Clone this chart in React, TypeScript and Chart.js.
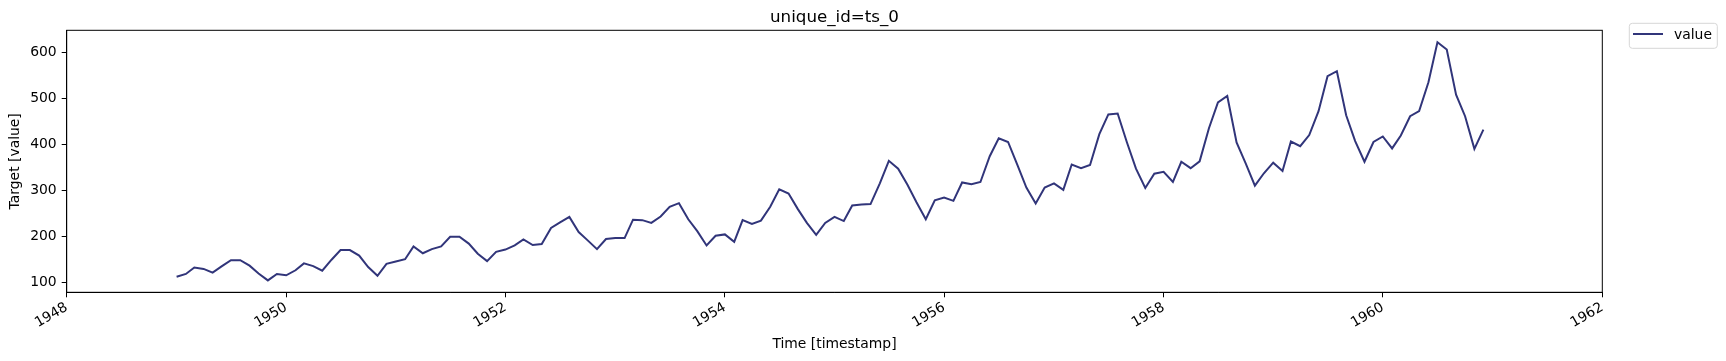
import React, { useEffect, useRef } from "react";
import { Chart, registerables } from "chart.js";

Chart.register(...registerables);

const years = [1949, 1950, 1951, 1952, 1953, 1954, 1955, 1956, 1957, 1958, 1959, 1960];
const v1949 = [112, 118, 132, 129, 121, 135, 148, 148, 136, 119, 104, 118];
const v1950 = [115, 126, 141, 135, 125, 149, 170, 170, 158, 133, 114, 140];
const v1951 = [145, 150, 178, 163, 172, 178, 199, 199, 184, 162, 146, 166];
const v1952 = [171, 180, 193, 181, 183, 218, 230, 242, 209, 191, 172, 194];
const v1953 = [196, 196, 236, 235, 229, 243, 264, 272, 237, 211, 180, 201];
const v1954 = [204, 188, 235, 227, 234, 264, 302, 293, 259, 229, 203, 229];
const v1955 = [242, 233, 267, 269, 270, 315, 364, 347, 312, 274, 237, 278];
const v1956 = [284, 277, 317, 313, 318, 374, 413, 405, 355, 306, 271, 306];
const v1957 = [315, 301, 356, 348, 355, 422, 465, 467, 404, 347, 305, 336];
const v1958 = [340, 318, 362, 348, 363, 435, 491, 505, 404, 359, 310, 337];
const v1959 = [360, 342, 406, 396, 420, 472, 548, 559, 463, 407, 362, 405];
const v1960 = [417, 391, 419, 461, 472, 535, 622, 606, 508, 461, 390, 432];
const yearValues = [v1949, v1950, v1951, v1952, v1953, v1954, v1955, v1956, v1957, v1958, v1959, v1960];

const xTickYears = [1948, 1950, 1952, 1954, 1956, 1958, 1960, 1962];
const yTicks = [100, 200, 300, 400, 500, 600];

const LINE_COLOR = "#31357a";
const FONT = "'DejaVu Sans', sans-serif";

export default function App() {
  const ref = useRef<HTMLCanvasElement | null>(null);

  useEffect(() => {
    document.body.style.margin = "0";
    const canvas = ref.current!;
    const points: { x: number; y: number }[] = [];
    years.forEach((yr, i) => {
      yearValues[i].forEach((v, m) => points.push({ x: Date.UTC(yr, m, 1), y: v }));
    });

    const L = 66.7, R = 1602.3, T = 30.3, B = 292.3;
    const W = 1726, H = 361;

    const decor = {
      id: "decor",
      afterDraw(chart: any) {
        const ctx = chart.ctx as CanvasRenderingContext2D;
        const a = chart.chartArea;
        ctx.save();
        ctx.strokeStyle = "#000";
        ctx.lineWidth = 1;
        ctx.strokeRect(a.left, a.top, a.right - a.left, a.bottom - a.top);
        ctx.fillStyle = "#000";
        ctx.textAlign = "center";
        ctx.textBaseline = "alphabetic";
        ctx.font = `16.7px ${FONT}`;
        ctx.fillText("unique_id=ts_0", (a.left + a.right) / 2, a.top - 8.3);
        ctx.font = `13.9px ${FONT}`;
        ctx.textBaseline = "middle";
        ctx.fillText("Time [timestamp]", (a.left + a.right) / 2, 344);
        ctx.save();
        ctx.translate(15, (a.top + a.bottom) / 2);
        ctx.rotate(-Math.PI / 2);
        ctx.fillText("Target [value]", 0, 0);
        ctx.restore();
        // legend
        const lx = 1629.3, ly = 23.3, lw = 88, lh = 25;
        ctx.beginPath();
        const r = 3;
        ctx.moveTo(lx + r, ly);
        ctx.arcTo(lx + lw, ly, lx + lw, ly + lh, r);
        ctx.arcTo(lx + lw, ly + lh, lx, ly + lh, r);
        ctx.arcTo(lx, ly + lh, lx, ly, r);
        ctx.arcTo(lx, ly, lx + lw, ly, r);
        ctx.closePath();
        ctx.fillStyle = "rgba(255,255,255,0.8)";
        ctx.fill();
        ctx.strokeStyle = "#d6d6d6";
        ctx.lineWidth = 1;
        ctx.stroke();
        ctx.strokeStyle = LINE_COLOR;
        ctx.lineWidth = 2;
        ctx.beginPath();
        ctx.moveTo(1633, 34);
        ctx.lineTo(1663, 34);
        ctx.stroke();
        ctx.fillStyle = "#000";
        ctx.textAlign = "left";
        ctx.textBaseline = "middle";
        ctx.font = `13.9px ${FONT}`;
        ctx.fillText("value", 1674, 35);
        ctx.restore();
      },
    };

    const chart = new Chart(canvas, {
      type: "line",
      data: {
        datasets: [
          {
            label: "value",
            data: points,
            borderColor: LINE_COLOR,
            borderWidth: 2,
            pointRadius: 0,
            tension: 0,
            fill: false,
          },
        ],
      },
      options: {
        animation: false,
        responsive: false,
        maintainAspectRatio: false,
        devicePixelRatio: 1,
        layout: { padding: { left: 0, top: T, right: W - R, bottom: 0 } },
        plugins: { legend: { display: false }, tooltip: { enabled: false }, title: { display: false } },
        scales: {
          x: {
            type: "linear",
            min: Date.UTC(1948, 0, 1),
            max: Date.UTC(1962, 0, 1),
            afterBuildTicks: (s: any) => {
              s.ticks = xTickYears.map((y) => ({ value: Date.UTC(y, 0, 1) }));
            },
            afterFit: (s: any) => {
              s.height = H - B;
            },
            ticks: {
              autoSkip: false,
              maxRotation: 30,
              minRotation: 30,
              padding: 2,
              color: "#000",
              font: { family: FONT, size: 13.9 },
              callback: (v: any) => String(new Date(v).getUTCFullYear()),
            },
            grid: { drawOnChartArea: false, drawTicks: true, tickLength: 5, tickColor: "#000", tickWidth: 1 },
            border: { display: true, color: "#000", width: 1 },
          },
          y: {
            type: "linear",
            min: 78.1,
            max: 647.9,
            afterBuildTicks: (s: any) => {
              s.ticks = yTicks.map((v) => ({ value: v }));
            },
            afterFit: (s: any) => {
              s.width = L;
            },
            ticks: {
              padding: 5,
              color: "#000",
              font: { family: FONT, size: 13.9 },
            },
            grid: { drawOnChartArea: false, drawTicks: true, tickLength: 5, tickColor: "#000", tickWidth: 1 },
            border: { display: true, color: "#000", width: 1 },
          },
        },
      },
      plugins: [decor],
    } as any);
    return () => chart.destroy();
  }, []);

  return (
    <div style={{ position: "fixed", left: 0, top: 0, width: 1726, height: 361, background: "#fff" }}>
      <canvas ref={ref} width={1726} height={361} style={{ width: 1726, height: 361, display: "block" }} />
    </div>
  );
}
